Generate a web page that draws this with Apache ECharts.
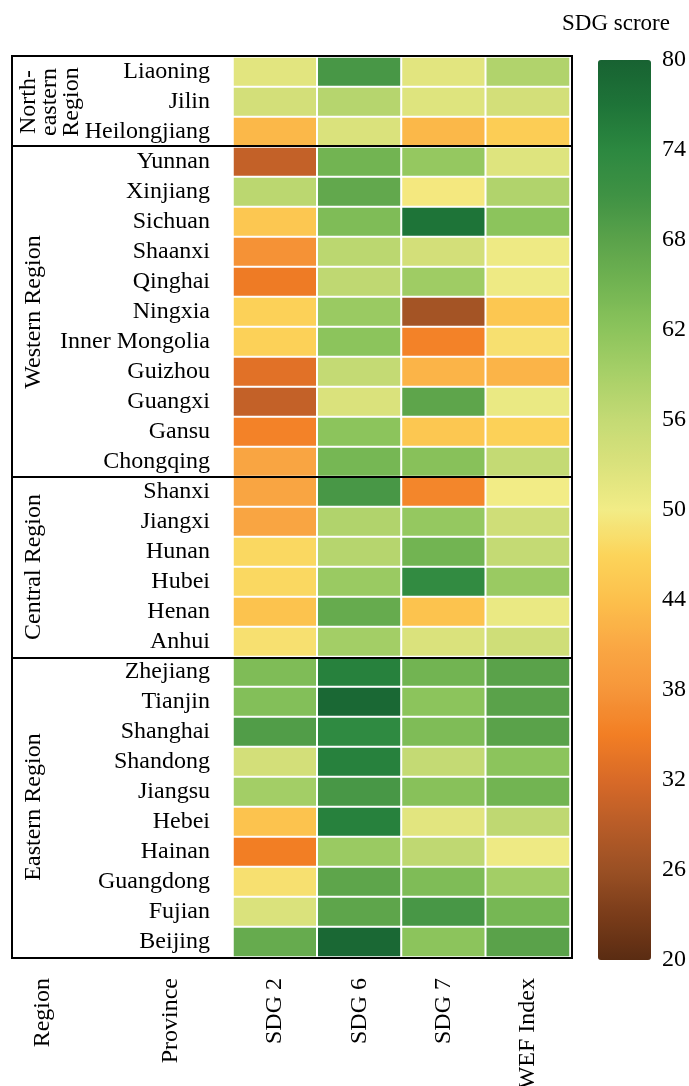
<!DOCTYPE html>
<html><head><meta charset="utf-8">
<script src="https://cdn.jsdelivr.net/npm/echarts@6/dist/echarts.min.js"></script>
<style>html,body{margin:0;padding:0;background:#fff;overflow:hidden}#c{width:689px;height:1086px}</style>
</head><body><div id="c"></div>
<script>
const provinces = ['Liaoning','Jilin','Heilongjiang','Yunnan','Xinjiang','Sichuan','Shaanxi','Qinghai','Ningxia','Inner Mongolia','Guizhou','Guangxi','Gansu','Chongqing','Shanxi','Jiangxi','Hunan','Hubei','Henan','Anhui','Zhejiang','Tianjin','Shanghai','Shandong','Jiangsu','Hebei','Hainan','Guangdong','Fujian','Beijing'];
const regionNames = ['North-\neastern\nRegion','Western Region','Central Region','Eastern Region'];
const regionSizes = [3, 11, 6, 10];
const indicators = ['SDG 2','SDG 6','SDG 7','WEF Index'];
const headerLabels = ['Region','Province'];
const sdg2 = [52,54,43, 30,57,45,37.5,34.5,46.5,46.5,33,30,35.5,40.5, 40.5,40.5,47.5,47.5,44.5,48.5, 63.5,63,69,54,59.5,44.5,35,48.5,53,66.5];
const sdg6 = [70,57.5,53, 65,67,63.5,57,56.5,60.5,62,56,53,62,64.5, 70,58,57.5,60.5,66.5,59.5, 75,79,73.5,75,70,75,60.5,67.5,67.5,79];
const sdg7 = [52,52.5,43, 61,49.5,77,54,60,27,35.5,42.5,67.5,45,62.5, 36,61,65,73,44.5,53, 65,62,63.5,56,62.5,52,56.5,63.5,70,62];
const wef  = [58,54,46, 52.5,58,62,50.5,50.5,45,48.5,42.5,51,46.5,56, 50,54.5,56,60.5,51,54.5, 68,68,68,62,65,56.5,50.5,59.5,64.5,68];
const scaleMin = 20, scaleMax = 80, scaleStep = 6;
const legendTitle = 'SDG scrore';

const FONT = '"Liberation Serif", "Times New Roman", serif';
const colors = ['#5a2c12','#7a3c1a','#9a5024','#b85c28','#d86a28','#f27e24','#f6963a','#faa844','#fcc04c','#fcd45a','#f2ec86','#dae27c','#c4da74','#a8d068','#8cc45c','#72b452','#5aa24a','#3f9244','#2c8840','#1e7438','#186232'];

const cols = [sdg2, sdg6, sdg7, wef];
const data = [];
cols.forEach((arr, xi) => arr.forEach((v, yi) => data.push([xi, yi, v])));
const boundaries = [];
let acc = 0;
regionSizes.forEach((n, i) => { if (i > 0) boundaries.push(acc); acc += n; });

const chart = echarts.init(document.getElementById('c'), null, {renderer: 'canvas'});
const txt = {fontFamily: FONT, fontSize: 24, color: '#000'};
const option = {
  animation: false,
  backgroundColor: '#fff',
  title: {text: legendTitle, left: 557, top: 7, textStyle: {fontFamily: FONT, fontSize: 23, fontWeight: 'normal', color: '#000'}},
  grid: [
    {left: 233, top: 57, width: 337, height: 900, outerBoundsMode: 'none', containLabel: false},
    {left: 12, top: 56, width: 560, height: 902, show: true, borderColor: '#000', borderWidth: 2, backgroundColor: 'transparent', z: 5, outerBoundsMode: 'none', containLabel: false},
    {left: 598, top: 60, width: 53, height: 900, outerBoundsMode: 'none', containLabel: false}
  ],
  xAxis: [
    {type: 'category', gridIndex: 0, data: indicators, position: 'bottom', axisLine: {show: false}, axisTick: {show: false}, splitLine: {show: false},
     axisLabel: Object.assign({rotate: 90, margin: 21, interval: 0}, txt)},
    {type: 'value', gridIndex: 1, min: 0, max: 1, show: false},
    {type: 'category', gridIndex: 2, data: ['bar'], show: false}
  ],
  yAxis: [
    {type: 'category', gridIndex: 0, data: provinces, inverse: true, axisLine: {show: false}, axisTick: {show: false}, splitLine: {show: false},
     axisLabel: Object.assign({margin: 23, interval: 0}, txt)},
    {type: 'category', gridIndex: 1, data: provinces, inverse: true, z: 6, axisLine: {show: false}, axisTick: {show: false}, axisLabel: {show: false},
     splitLine: {show: true, interval: (i) => boundaries.indexOf(i) >= 0, lineStyle: {color: '#000', width: 2}}},
    {type: 'value', gridIndex: 2, min: scaleMin, max: scaleMax, interval: scaleStep, position: 'right', axisLine: {show: false}, axisTick: {show: false}, splitLine: {show: false},
     axisLabel: Object.assign({margin: 11}, txt)}
  ],
  visualMap: {
    type: 'continuous', min: scaleMin, max: scaleMax, seriesIndex: 0, calculable: false,
    left: 598, top: 60, itemWidth: 53, itemHeight: 900, padding: 0,
    inRange: {color: colors}
  },
  series: [
    {type: 'heatmap', xAxisIndex: 0, yAxisIndex: 0, data: data,
     itemStyle: {borderColor: '#fff', borderWidth: 2}, emphasis: {disabled: true}}
  ]
};
chart.setOption(option);

const graphics = [];
let start = 0;
regionSizes.forEach((n, i) => {
  const y0 = chart.convertToPixel({yAxisIndex: 0}, provinces[start]);
  const y1 = chart.convertToPixel({yAxisIndex: 0}, provinces[start + n - 1]);
  graphics.push({type: 'text', x: i === 0 ? 50 : 34, y: (y0 + y1) / 2, rotation: Math.PI / 2, z: 10,
    style: {text: regionNames[i], align: 'center', verticalAlign: 'middle', font: '24px ' + FONT, fill: '#000', lineHeight: 21.5}});
  start += n;
});
[[headerLabels[0], 43], [headerLabels[1], 171]].forEach(([t, x]) => {
  graphics.push({type: 'text', x: x, y: 978, rotation: Math.PI / 2, z: 10,
    style: {text: t, align: 'right', verticalAlign: 'middle', font: '24px ' + FONT, fill: '#000'}});
});
chart.setOption({graphic: graphics});
</script></body></html>
